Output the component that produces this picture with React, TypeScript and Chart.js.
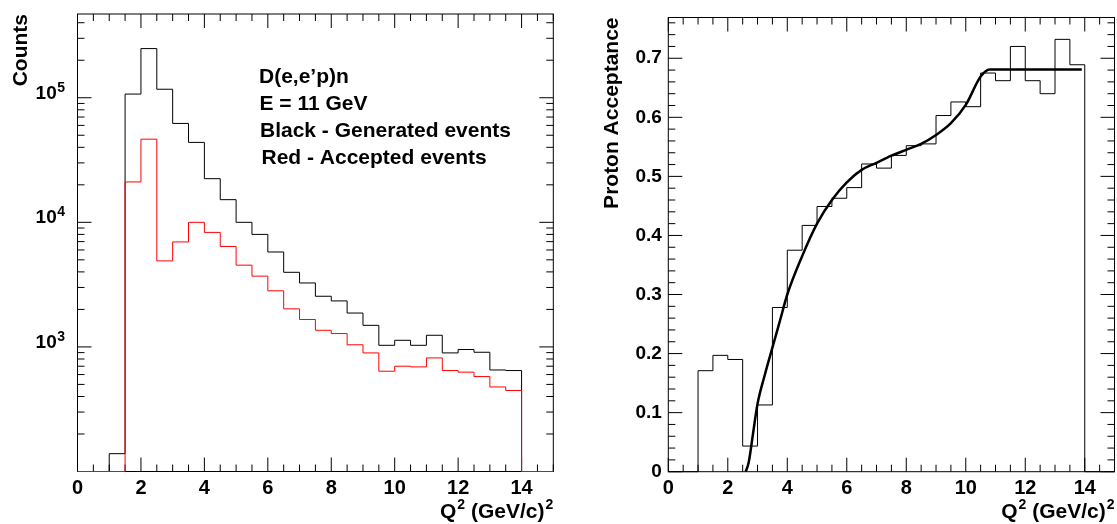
import React, { useEffect, useRef } from 'react';
import { Chart, registerables } from 'chart.js';

Chart.register(...registerables);

// ---- data ----
const binLowEdges = [0, 0.5, 1, 1.5, 2, 2.5, 3, 3.5, 4, 4.5, 5, 5.5, 6, 6.5, 7, 7.5, 8, 8.5, 9, 9.5, 10, 10.5, 11, 11.5, 12, 12.5, 13, 13.5, 14, 14.5];
const binWidth = 0.5;

const generatedCounts = [0, 0, 139, 107000, 248000, 117000, 62200, 43800, 22400, 15200, 10000, 8000, 5780, 3970, 3260, 2550, 2340, 1870, 1490, 1030, 1130, 1030, 1240, 895, 953, 906, 653, 646, 0, 0];
const acceptedCounts = [0, 0, 0, 21100, 46500, 4900, 6960, 10000, 8300, 6400, 4530, 3700, 2820, 2020, 1660, 1360, 1280, 1040, 895, 638, 700, 691, 816, 646, 627, 578, 477, 447, 0, 0];

const protonAcceptance = [0, 0, 0.171, 0.197, 0.19, 0.0434, 0.113, 0.278, 0.375, 0.417, 0.449, 0.463, 0.481, 0.521, 0.514, 0.5355, 0.552, 0.555, 0.603, 0.626, 0.618, 0.675, 0.662, 0.72, 0.662, 0.64, 0.732, 0.689, 0, 0];

const fitQ2 = [2.6, 2.7, 2.85, 3.0, 3.25, 3.5, 3.75, 4.0, 4.5, 5.0, 5.5, 6.0, 6.5, 7.0, 7.5, 8.0, 8.5, 9.0, 9.5, 10.0, 10.5, 10.8, 11.5, 12.5, 13.9];
const fitAcceptance = [0, 0.015, 0.065, 0.115, 0.165, 0.21, 0.255, 0.3, 0.365, 0.42, 0.46, 0.49, 0.511, 0.523, 0.535, 0.545, 0.555, 0.57, 0.59, 0.621, 0.669, 0.681, 0.681, 0.681, 0.681];

const xTickValues = [0, 2, 4, 6, 8, 10, 12, 14];
const countTickValues = [1000, 10000, 100000];
const acceptanceTickValues = [0, 0.1, 0.2, 0.3, 0.4, 0.5, 0.6, 0.7];
const annotationLines = ['D(e,e\u2019p)n', 'E = 11 GeV', 'Black - Generated events', 'Red - Accepted events'];

// x title drawn as pieces: [text, isSuperscript]
const xTitleParts: [string, boolean][] = [['Q', false], ['2', true], [' (GeV/c)', false], ['2', true]];
const countsTitle = 'Counts';
const acceptanceTitle = 'Proton Acceptance';

const countMin = 100;
const countMax = 470000;
const accMax = 0.769;

const FONT = '"Liberation Sans", Arial, Helvetica, sans-serif';

function histPoints(values: number[], floor: number) {
  const pts = binLowEdges.map((x, i) => ({ x, y: values[i] > 0 ? values[i] : floor }));
  const last = values.length - 1;
  pts.push({ x: binLowEdges[last] + binWidth, y: values[last] > 0 ? values[last] : floor });
  return pts;
}

type TickMark = { v: number; len: number };

function xTickMarks(): TickMark[] {
  const out: TickMark[] = [];
  for (let i = 0; i <= 30; i++) {
    out.push({ v: i * 0.5, len: i % 4 === 0 ? 14 : 7 });
  }
  return out;
}

function logTickMarks(): TickMark[] {
  const out: TickMark[] = [];
  for (let e = 2; e <= 5; e++) {
    for (let k = 1; k <= 9; k++) {
      const v = k * Math.pow(10, e);
      if (v < countMin || v > countMax) continue;
      out.push({ v, len: k === 1 ? 14 : 7 });
    }
  }
  return out;
}

function linTickMarks(): TickMark[] {
  const out: TickMark[] = [];
  for (let i = 0; i <= 38; i++) {
    const v = i * 0.02;
    if (v > accMax) break;
    out.push({ v, len: i % 5 === 0 ? 14 : 7 });
  }
  return out;
}

function drawXTitle(chart: any) {
  const { ctx, chartArea: a } = chart;
  ctx.save();
  ctx.fillStyle = '#000';
  ctx.textAlign = 'left';
  ctx.textBaseline = 'alphabetic';
  const big = `bold 21px ${FONT}`;
  const small = `bold 14px ${FONT}`;
  let total = 0;
  for (const [t, sup] of xTitleParts) {
    ctx.font = sup ? small : big;
    total += ctx.measureText(t).width + (sup ? 1 : 0);
  }
  let x = a.right - total;
  const base = 518;
  for (const [t, sup] of xTitleParts) {
    ctx.font = sup ? small : big;
    if (sup) x += 1;
    ctx.fillText(t, x, sup ? base - 9 : base);
    x += ctx.measureText(t).width;
  }
  ctx.restore();
}

const rootFrame = {
  id: 'rootFrame',
  beforeDatasetsDraw(chart: any, _args: any, opts: any) {
    const { ctx, chartArea: a, scales } = chart;
    const xs = scales.x;
    const ys = scales.y;
    ctx.save();
    ctx.strokeStyle = '#000';
    ctx.lineWidth = 1;
    ctx.strokeRect(a.left, a.top, a.right - a.left, a.bottom - a.top);
    ctx.beginPath();
    for (const t of opts.xTicks as TickMark[]) {
      const px = xs.getPixelForValue(t.v);
      ctx.moveTo(px, a.bottom);
      ctx.lineTo(px, a.bottom - t.len);
      ctx.moveTo(px, a.top);
      ctx.lineTo(px, a.top + t.len);
    }
    for (const t of opts.yTicks as TickMark[]) {
      const py = ys.getPixelForValue(t.v);
      ctx.moveTo(a.left, py);
      ctx.lineTo(a.left + t.len, py);
      ctx.moveTo(a.right, py);
      ctx.lineTo(a.right - t.len, py);
    }
    ctx.stroke();
    ctx.restore();
  },
  afterDraw(chart: any, _args: any, opts: any) {
    drawXTitle(chart);
    if (opts.extra) opts.extra(chart);
  },
};

function xScale(height: number) {
  return {
    type: 'linear',
    min: 0,
    max: 15,
    afterBuildTicks: (s: any) => {
      s.ticks = xTickValues.map((value) => ({ value }));
    },
    afterFit: (s: any) => {
      s.height = height;
      s.paddingLeft = 0;
      s.paddingRight = 0;
    },
    grid: { display: false, drawTicks: false },
    border: { display: false },
    ticks: {
      color: '#000',
      padding: 5,
      maxRotation: 0,
      autoSkip: false,
      font: { family: FONT, size: 20, weight: 'bold' },
      callback: (v: any) => String(v),
    },
    title: { display: false },
  };
}

function drawCountLabels(chart: any) {
  const { ctx, scales } = chart;
  const ys = scales.y;
  ctx.save();
  ctx.fillStyle = '#000';
  for (const v of countTickValues) {
    const py = ys.getPixelForValue(v);
    const exp = Math.round(Math.log10(v));
    ctx.font = `bold 19px ${FONT}`;
    ctx.textAlign = 'right';
    ctx.textBaseline = 'alphabetic';
    ctx.fillText('10', 56.7, py + 0.8);
    ctx.font = `bold 14px ${FONT}`;
    ctx.textAlign = 'left';
    ctx.fillText(String(exp), 57.2, py - 6);
  }
  ctx.font = `bold 21px ${FONT}`;
  ctx.textAlign = 'left';
  ctx.textBaseline = 'alphabetic';
  const pos = [
    [259, 83],
    [259.5, 110],
    [260, 137],
    [261.5, 164],
  ];
  annotationLines.forEach((t, i) => ctx.fillText(t, pos[i][0], pos[i][1]));
  ctx.restore();
}

export default function App() {
  const leftRef = useRef<HTMLCanvasElement | null>(null);
  const rightRef = useRef<HTMLCanvasElement | null>(null);

  useEffect(() => {
    const left = new Chart(leftRef.current as HTMLCanvasElement, {
      type: 'line',
      data: {
        datasets: [
          {
            label: 'Accepted',
            data: histPoints(acceptedCounts, countMin),
            borderColor: '#ff0000',
            borderWidth: 1,
            stepped: 'before',
            pointRadius: 0,
            fill: false,
            clip: 4,
            order: 0,
          },
          {
            label: 'Generated',
            data: histPoints(generatedCounts, countMin),
            borderColor: '#000000',
            borderWidth: 1,
            stepped: 'before',
            pointRadius: 0,
            fill: false,
            clip: 4,
            order: 1,
          },
        ],
      } as any,
      options: {
        animation: false,
        responsive: false,
        events: [],
        layout: { padding: { left: 0, right: 6.7, top: 14, bottom: 0 } },
        plugins: {
          legend: { display: false },
          tooltip: { enabled: false },
          rootFrame: { xTicks: xTickMarks(), yTicks: logTickMarks(), extra: drawCountLabels },
        } as any,
        scales: {
          x: xScale(52.5) as any,
          y: {
            type: 'logarithmic',
            min: countMin,
            max: countMax,
            afterFit: (s: any) => {
              s.width = 77.5;
              s.paddingTop = 0;
              s.paddingBottom = 0;
            },
            grid: { display: false, drawTicks: false },
            border: { display: false },
            ticks: { display: false },
            title: {
              display: true,
              text: countsTitle,
              align: 'end',
              color: '#000',
              padding: { top: 8.4, bottom: 0 },
              font: { family: FONT, size: 21, weight: 'bold' },
            },
          } as any,
        },
      },
      plugins: [rootFrame as any],
    });

    const right = new Chart(rightRef.current as HTMLCanvasElement, {
      type: 'line',
      data: {
        datasets: [
          {
            label: 'Fit',
            data: fitQ2.map((x, i) => ({ x, y: fitAcceptance[i] })),
            borderColor: '#000000',
            borderWidth: 2.5,
            cubicInterpolationMode: 'monotone',
            pointRadius: 0,
            fill: false,
            clip: 4,
            order: 0,
          },
          {
            label: 'Acceptance',
            data: histPoints(protonAcceptance, 0),
            borderColor: '#000000',
            borderWidth: 1,
            stepped: 'before',
            pointRadius: 0,
            fill: false,
            clip: 4,
            order: 1,
          },
        ],
      } as any,
      options: {
        animation: false,
        responsive: false,
        events: [],
        layout: { padding: { left: 0, right: 2.5, top: 17.5, bottom: 0 } },
        plugins: {
          legend: { display: false },
          tooltip: { enabled: false },
          rootFrame: { xTicks: xTickMarks(), yTicks: linTickMarks() },
        } as any,
        scales: {
          x: xScale(52.3) as any,
          y: {
            type: 'linear',
            min: 0,
            max: accMax,
            afterBuildTicks: (s: any) => {
              s.ticks = acceptanceTickValues.map((value) => ({ value }));
            },
            afterFit: (s: any) => {
              s.width = 108.3;
              s.paddingTop = 0;
              s.paddingBottom = 0;
            },
            grid: { display: false, drawTicks: false },
            border: { display: false },
            ticks: {
              color: '#000',
              padding: 6.5,
              font: { family: FONT, size: 19, weight: 'bold' },
              callback: (v: any) => String(v),
            },
            title: {
              display: true,
              text: acceptanceTitle,
              align: 'end',
              color: '#000',
              padding: { top: 39.4, bottom: 0 },
              font: { family: FONT, size: 21, weight: 'bold' },
            },
          } as any,
        },
      },
      plugins: [rootFrame as any],
    });

    return () => {
      left.destroy();
      right.destroy();
    };
  }, []);

  return (
    <div style={{ position: 'absolute', left: 0, top: 0, width: 1117, height: 524, background: '#fff' }}>
      <canvas ref={leftRef} width={560} height={524} style={{ position: 'absolute', left: 0, top: 0, width: 560, height: 524 }} />
      <canvas ref={rightRef} width={557} height={524} style={{ position: 'absolute', left: 560, top: 0, width: 557, height: 524 }} />
    </div>
  );
}
